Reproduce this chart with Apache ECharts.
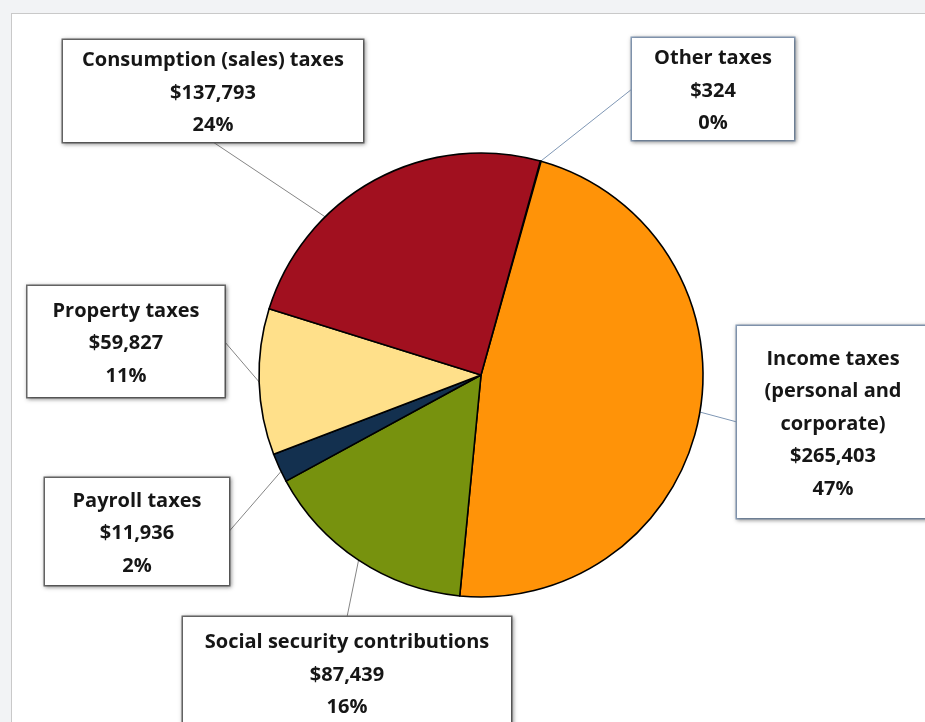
<!DOCTYPE html>
<html>
<head>
<meta charset="utf-8">
<script src="https://cdn.jsdelivr.net/npm/echarts@6/dist/echarts.min.js"></script>
<style>
  html, body { margin: 0; padding: 0; background: #f2f3f5; }
  .frame {
    position: absolute; left: 11px; top: 13px; width: 930px; height: 730px;
    background: #fff; border-top: 1px solid #c9c9c9; border-left: 1px solid #c9c9c9;
  }
  #chart { position: absolute; left: 0; top: 0; width: 925px; height: 722px; }
</style>
</head>
<body>
<div class="frame"></div>
<div id="chart"></div>
<script>
// data, in clockwise order from the top
const categories = [
  'Other taxes',
  'Income taxes\n(personal and\ncorporate)',
  'Social security contributions',
  'Payroll taxes',
  'Property taxes',
  'Consumption (sales) taxes'
];
const amounts = [324, 265403, 87439, 11936, 59827, 137793];
const colors = ['#2b2b2b', '#ff9308', '#77920e', '#13304f', '#ffe08a', '#a1101f'];

// label boxes: centre x, top y, outer width, outer height, side the leader meets
const boxes = [
  [713, 38, 162, 102, 'left'],
  [833, 326, 192, 192, 'left'],
  [347, 617, 328, 112, 'top'],
  [137, 478, 184, 107, 'right'],
  [126, 286, 197, 111, 'right'],
  [213, 40, 300, 102, 'bottom']
];
// leader nudge along the rim, degrees
const leaderShift = [0, -1, 0, -1, 0, -16];
const blueish = [true, true, false, false, false, false];

const CX = 481, CY = 375, R = 222, START = 74.5;
const LH = 32.5;

const total = amounts.reduce((a, b) => a + b, 0);
const midAngles = [];
amounts.reduce((acc, v) => {
  midAngles.push(acc + v / total * 180);
  return acc + v / total * 360;
}, 90 - START);

const rimPoint = (deg) => {
  const a = deg * Math.PI / 180;
  return [CX + R * Math.sin(a), CY - R * Math.cos(a)];
};
const boxPoint = (b) => {
  const [x, y, w, h, side] = b;
  if (side === 'left') return [x - w / 2, y + h / 2];
  if (side === 'right') return [x + w / 2, y + h / 2];
  if (side === 'top') return [x, y];
  return [x, y + h];
};

const myChart = echarts.init(document.getElementById('chart'), null, { renderer: 'canvas' });

const fmt = (n) => '$' + n.toLocaleString('en-US');

const option = {
  animation: false,
  series: [{
    type: 'pie',
    center: [CX, CY],
    radius: R,
    startAngle: START,
    clockwise: true,
    percentPrecision: 0,
    avoidLabelOverlap: false,
    itemStyle: { borderColor: '#000', borderWidth: 1.6 },
    emphasis: { disabled: true },
    labelLine: { show: true, length: 10, length2: 0, lineStyle: { width: 1 } },
    label: {
      show: true,
      position: 'outside',
      fontFamily: 'Open Sans',
      fontWeight: 'bold',
      fontSize: 20,
      lineHeight: LH,
      color: '#161616',
      backgroundColor: '#fff',
      borderWidth: 1.5,
      shadowBlur: 4,
      shadowColor: 'rgba(0,0,0,0.35)',
      shadowOffsetX: 1,
      shadowOffsetY: 1,
      align: 'center',
      formatter: (p) => p.name + '\n' + fmt(p.value) + '\n' + p.percent + '%'
    },
    labelLayout: (params) => {
      const i = params.dataIndex;
      const b = boxes[i];
      const p0 = rimPoint(midAngles[i] + leaderShift[i]);
      const p1 = boxPoint(b);
      return {
        x: b[0], y: b[1], align: 'center', verticalAlign: 'top',
        labelLinePoints: [p0, p1, p1]
      };
    },
    data: categories.map((name, i) => {
      const b = boxes[i];
      const edge = blueish[i] ? '#8a9fba' : '#6b6b6b';
      const line = blueish[i] ? '#7f97b5' : '#858585';
      const lines = name.split('\n').length + 2;
      const padV = (b[3] - lines * LH) / 2;
      return {
        name: name,
        value: amounts[i],
        itemStyle: { color: colors[i] },
        label: {
          borderColor: edge,
          width: b[2] - 4,
          height: lines * LH,
          padding: [padV + 2, 2, padV - 2, 2]
        },
        labelLine: { lineStyle: { color: line } }
      };
    })
  }]
};

myChart.setOption(option);
</script>
</body>
</html>
